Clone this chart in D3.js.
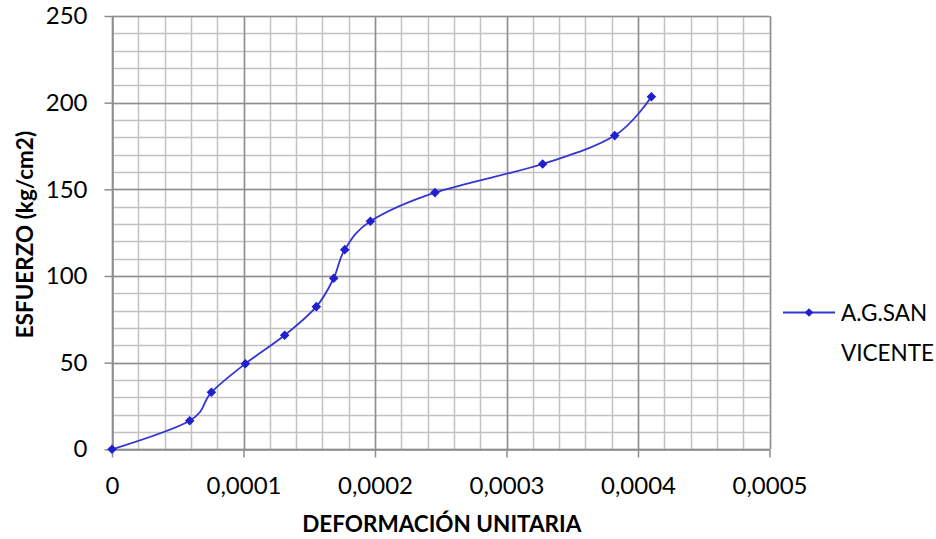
<!DOCTYPE html>
<html>
<head>
<meta charset="utf-8">
<script src="https://cdn.jsdelivr.net/npm/d3@7"></script>
<style>
  html, body { margin: 0; padding: 0; background: #fff; }
  svg { display: block; }
  text { font-family: Lato, "Open Sans", sans-serif; fill: #000; }
</style>
</head>
<body>
<svg id="chart" width="936" height="539"></svg>
<script>
// Deformación unitaria (strain) for each load step
const deformacion = [0, 0.0000591, 0.0000756, 0.0001014, 0.0001313, 0.0001554,
  0.0001686, 0.000177, 0.0001965, 0.0002456, 0.0003275, 0.0003823, 0.0004102];
// Esfuerzo (kg/cm2)
const esfuerzo = [0, 16.5, 32.9, 49.4, 65.8, 82.3, 98.7, 115.2, 131.6, 148.1, 164.6, 181.0, 203.4];

const seriesName = ["A.G.SAN", "VICENTE"];
const xTickValues = [0, 0.0001, 0.0002, 0.0003, 0.0004, 0.0005];
const xTickLabels = ["0", "0,0001", "0,0002", "0,0003", "0,0004", "0,0005"];
const yTickValues = [0, 50, 100, 150, 200, 250];
const yTickLabels = ["0", "50", "100", "150", "200", "250"];
const xMinorStep = 0.00002;
const yMinorStep = 10;

const svg = d3.select("#chart");
const pLeft = 112, pRight = 769.5, pTop = 16, pBottom = 449.3;

const x = d3.scaleLinear().domain([0, 0.0005]).range([pLeft, pRight]);
const y = d3.scaleLinear().domain([0, 250]).range([pBottom, pTop]);

// Minor grid
const xMinor = d3.range(0, 0.0005 + 1e-9, xMinorStep);
const yMinor = d3.range(0, 250 + 1e-9, yMinorStep);
const grid = svg.append("g");
grid.selectAll(".vx").data(xMinor).join("line")
  .attr("x1", d => Math.round(x(d)) + 0.5).attr("x2", d => Math.round(x(d)) + 0.5)
  .attr("y1", pTop).attr("y2", pBottom)
  .attr("stroke", "#c2c2c2").attr("stroke-width", 1.5);
grid.selectAll(".hy").data(yMinor).join("line")
  .attr("y1", d => Math.round(y(d)) + 0.5).attr("y2", d => Math.round(y(d)) + 0.5)
  .attr("x1", pLeft).attr("x2", pRight)
  .attr("stroke", "#c2c2c2").attr("stroke-width", 1.5);

// Major grid
grid.selectAll(".vX").data(xTickValues).join("line")
  .attr("x1", d => Math.round(x(d)) + 0.5).attr("x2", d => Math.round(x(d)) + 0.5)
  .attr("y1", pTop).attr("y2", pBottom)
  .attr("stroke", "#8e8e8e").attr("stroke-width", 1.5);
grid.selectAll(".hY").data(yTickValues).join("line")
  .attr("y1", d => Math.round(y(d)) + 0.5).attr("y2", d => Math.round(y(d)) + 0.5)
  .attr("x1", pLeft).attr("x2", pRight)
  .attr("stroke", "#8e8e8e").attr("stroke-width", 1.5);

// Axes
const xAxis = d3.axisBottom(x).tickValues(xTickValues)
  .tickFormat((d, i) => xTickLabels[i]).tickSizeInner(8).tickSizeOuter(0).tickPadding(19);
const gx = svg.append("g").attr("transform", `translate(0,${Math.round(pBottom) + 0.5})`).call(xAxis);
gx.select(".domain").attr("stroke", "#8e8e8e").attr("stroke-width", 1.5);
gx.selectAll(".tick line").attr("stroke", "#8e8e8e").attr("stroke-width", 1.5);
gx.selectAll(".tick text").attr("font-size", 24).attr("font-family", "Lato, sans-serif").attr("fill", "#000");

const yAxis = d3.axisLeft(y).tickValues(yTickValues)
  .tickFormat((d, i) => yTickLabels[i]).tickSizeInner(8).tickSizeOuter(0).tickPadding(17);
const gy = svg.append("g").attr("transform", `translate(${Math.round(pLeft) + 0.5},0)`).call(yAxis);
gy.select(".domain").attr("stroke", "#8e8e8e").attr("stroke-width", 1.5);
gy.selectAll(".tick line").attr("stroke", "#8e8e8e").attr("stroke-width", 1.5);
gy.selectAll(".tick text").attr("font-size", 24).attr("font-family", "Lato, sans-serif").attr("fill", "#000");

// Axis titles
svg.append("text")
  .attr("x", (pLeft + pRight) / 2 + 1).attr("y", 532)
  .attr("text-anchor", "middle").attr("font-size", 22.5).attr("font-weight", "bold")
  .text("DEFORMACIÓN UNITARIA");
svg.append("text")
  .attr("transform", `translate(33,${(pTop + pBottom) / 2 + 2}) rotate(-90)`)
  .attr("text-anchor", "middle").attr("font-size", 22.5).attr("font-weight", "bold")
  .text("ESFUERZO (kg/cm2)");

// Series
const pts = deformacion.map((d, i) => [d, esfuerzo[i]]);
const lineColor = "#3535d2", markerColor = "#2020cf";
const line = d3.line().x(d => x(d[0])).y(d => y(d[1])).curve(d3.curveCatmullRom.alpha(0));
svg.append("path").datum(pts).attr("d", line)
  .attr("fill", "none").attr("stroke", lineColor).attr("stroke-width", 1.8);

const marker = d3.symbol().type(d3.symbolSquare).size(46);
svg.append("g").selectAll("path").data(pts).join("path")
  .attr("d", marker)
  .attr("transform", d => `translate(${x(d[0])},${y(d[1])}) rotate(45)`)
  .attr("fill", markerColor);

// Legend
const lg = svg.append("g");
lg.append("line").attr("x1", 783).attr("x2", 835).attr("y1", 312.5).attr("y2", 312.5)
  .attr("stroke", lineColor).attr("stroke-width", 1.8);
lg.append("path").attr("d", d3.symbol().type(d3.symbolSquare).size(36))
  .attr("transform", "translate(809,312.5) rotate(45)").attr("fill", markerColor);
lg.selectAll("text").data(seriesName).join("text")
  .attr("x", 841).attr("y", (d, i) => 320.5 + i * 40)
  .attr("font-size", 22.5)
  .text(d => d);
</script>
</body>
</html>
